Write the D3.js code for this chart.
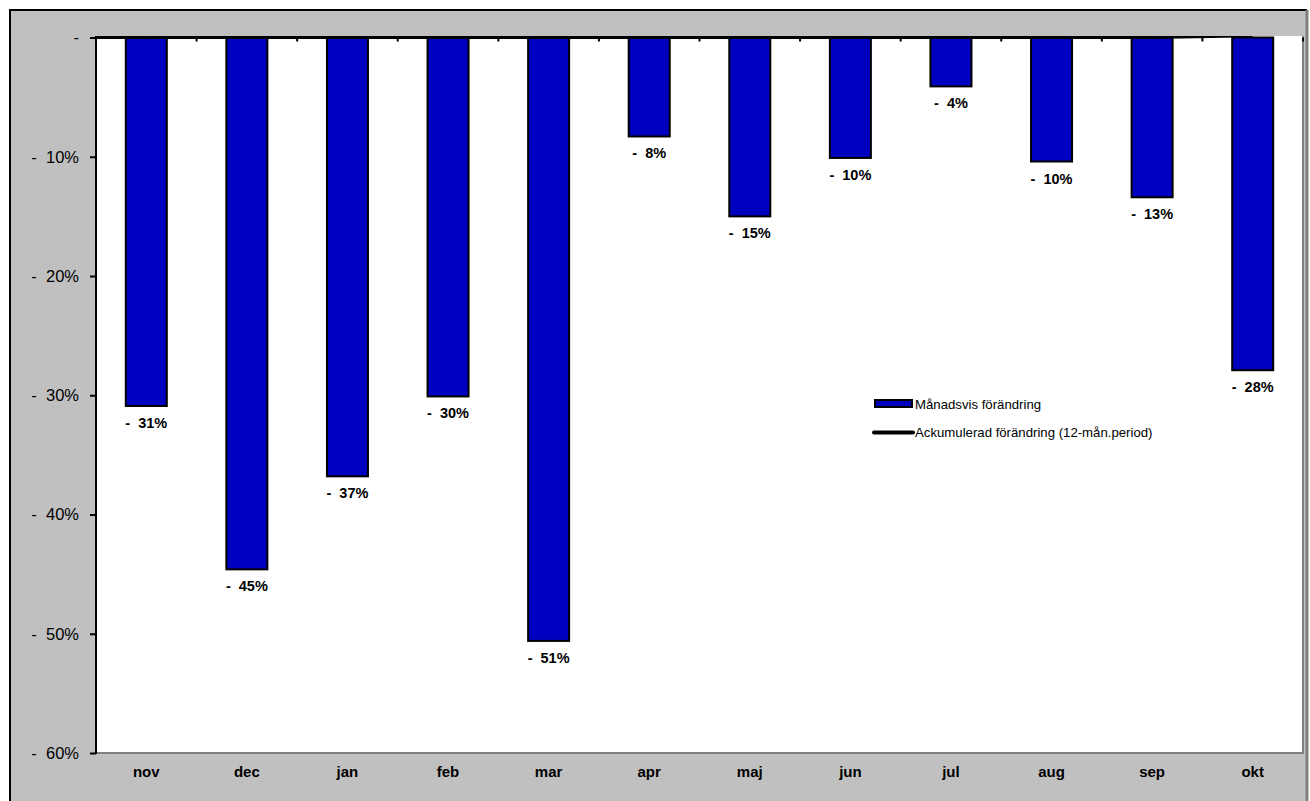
<!DOCTYPE html>
<html><head><meta charset="utf-8">
<script src="https://cdn.jsdelivr.net/npm/d3@7"></script>
<style>body{margin:0;background:#fff}svg{display:block}</style>
</head><body>
<script>
const months = ["nov","dec","jan","feb","mar","apr","maj","jun","jul","aug","sep","okt"];
const monthly = [-30.9,-44.6,-36.8,-30.1,-50.6,-8.3,-15.0,-10.1,-4.1,-10.4,-13.4,-27.9];
const accumulated = [0,0,0,0,0,0,0,0,0,0,0,0.15];
const yTicks = [0,-10,-20,-30,-40,-50,-60];
const legendLabels = ["Månadsvis förändring","Ackumulerad förändring (12-mån.period)"];

const W=1310,H=801;
const FONT="Arial, 'Liberation Sans', sans-serif";
const svg=d3.select("body").append("svg").attr("width",W).attr("height",H);
svg.append("rect").attr("width",W).attr("height",H).attr("fill","#fff");
// chart area
svg.append("rect").attr("x",10).attr("y",10).attr("width",1296).attr("height",H).attr("fill","#C0C0C0");
svg.append("line").attr("x1",10).attr("x2",10).attr("y1",9).attr("y2",H).attr("stroke","#000").attr("stroke-width",2);
svg.append("line").attr("x1",9).attr("x2",1307).attr("y1",10).attr("y2",10).attr("stroke","#000").attr("stroke-width",2);
svg.append("line").attr("x1",1307).attr("x2",1307).attr("y1",10).attr("y2",H).attr("stroke","#808080").attr("stroke-width",3);

const L=96,R=1303,T=37.5,B=753;
const xb=d3.scaleBand().domain(months).range([L,R]);
const y=d3.scaleLinear().domain([0,-60]).range([T,B]);

svg.append("rect").attr("x",L).attr("y",36).attr("width",R-L).attr("height",B-36).attr("fill","#fff");
svg.append("defs").append("clipPath").attr("id","pc").append("rect").attr("x",L).attr("y",36).attr("width",R-L).attr("height",B-36);

// bars
svg.append("g").selectAll("rect").data(monthly).join("rect")
  .attr("x",(d,i)=>xb(months[i])+xb.bandwidth()/2-20.5)
  .attr("width",41)
  .attr("y",y(0)).attr("height",d=>y(d)-y(0))
  .attr("fill","#0000C0").attr("stroke","#000").attr("stroke-width",2);

// plot borders
svg.append("line").attr("x1",L).attr("x2",R).attr("y1",B).attr("y2",B).attr("stroke","#808080").attr("stroke-width",2);
svg.append("line").attr("x1",R).attr("x2",R).attr("y1",36).attr("y2",B+1).attr("stroke","#808080").attr("stroke-width",2);

// accumulated line
svg.append("path").attr("clip-path","url(#pc)")
  .datum(accumulated)
  .attr("d",d3.line().x((d,i)=>xb(months[i])+xb.bandwidth()/2).y(d=>y(d)))
  .attr("fill","none").attr("stroke","#000").attr("stroke-width",3);
svg.append("line").attr("x1",L).attr("x2",xb(months[0])+xb.bandwidth()/2).attr("y1",y(0)).attr("y2",y(0)).attr("stroke","#000").attr("stroke-width",3);

// x ticks at zero line
svg.append("g").selectAll("line").data(months).join("line")
  .attr("x1",d=>xb(d)+xb.bandwidth()).attr("x2",d=>xb(d)+xb.bandwidth())
  .attr("y1",y(0)).attr("y2",y(0)+4).attr("stroke","#000").attr("stroke-width",2);

// y axis
const fmt=v=>v===0?"-":"-  "+Math.abs(v)+"%";
const ya=d3.axisLeft(y).tickValues(yTicks).tickSize(6).tickPadding(11).tickFormat(fmt);
const gy=svg.append("g").attr("transform",`translate(${L},0)`).call(ya);
gy.select(".domain").attr("stroke","#000").attr("stroke-width",2).attr("d",`M0,${T-1.5}V${B+1}`);
gy.selectAll(".tick line").attr("stroke","#000").attr("stroke-width",2);
gy.selectAll(".tick text").attr("font-family",FONT).attr("font-size",16.5).attr("fill","#000").style("white-space","pre");

// x labels
svg.append("g").selectAll("text").data(months).join("text")
  .attr("x",d=>xb(d)+xb.bandwidth()/2).attr("y",777)
  .attr("text-anchor","middle").attr("font-family",FONT)
  .attr("font-weight","bold").attr("font-size",15).text(d=>d);

// bar labels
svg.append("g").selectAll("text").data(monthly).join("text")
  .attr("x",(d,i)=>xb(months[i])+xb.bandwidth()/2).attr("y",d=>y(d)+22)
  .attr("text-anchor","middle").attr("font-family",FONT)
  .attr("font-weight","bold").attr("font-size",14.5).style("white-space","pre")
  .text(d=>"-  "+Math.round(Math.abs(d))+"%");

// legend
const lg=svg.append("g");
lg.append("rect").attr("x",875).attr("y",400).attr("width",37).attr("height",7).attr("fill","#0000C0").attr("stroke","#000").attr("stroke-width",2);
lg.append("line").attr("x1",874).attr("x2",913).attr("y1",432.5).attr("y2",432.5).attr("stroke","#000").attr("stroke-width",4).attr("stroke-linecap","round");
lg.selectAll("text").data(legendLabels).join("text")
  .attr("x",915).attr("y",(d,i)=>409+i*28)
  .attr("font-family",FONT).attr("font-size",13.2)
  .text(d=>d);
</script>
</body></html>
